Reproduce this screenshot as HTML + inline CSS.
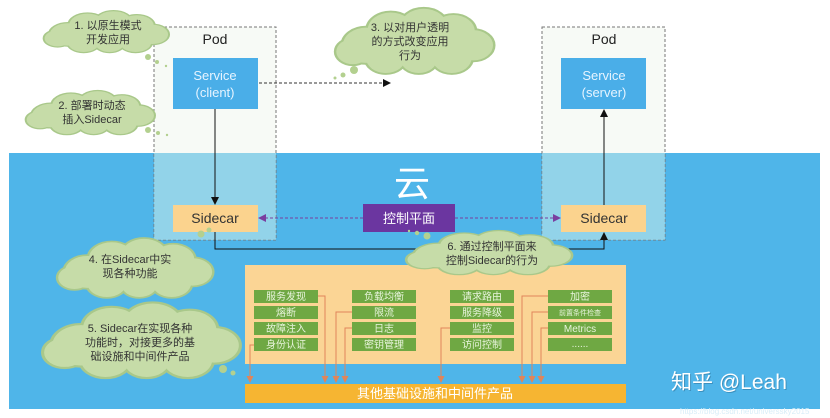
<!DOCTYPE html>
<html><head><meta charset="utf-8"><style>
html,body{margin:0;padding:0;background:#fff;}
svg{display:block;font-family:"Liberation Sans","Noto Sans CJK SC",sans-serif;}
</style></head><body>
<svg width="830" height="418" viewBox="0 0 830 418" xmlns="http://www.w3.org/2000/svg">
<defs>
<symbol id="cl" viewBox="0 0 100 50" preserveAspectRatio="none" overflow="visible">
 <g fill="#a9c88a" stroke="#a9c88a" stroke-width="3">
  <ellipse cx="50" cy="27" rx="38" ry="16"/>
  <circle cx="20" cy="28" r="14"/><circle cx="35" cy="16" r="14"/><circle cx="55" cy="13" r="14"/>
  <circle cx="73" cy="17" r="13"/><circle cx="85" cy="28" r="12"/><circle cx="72" cy="38" r="12"/>
  <circle cx="52" cy="39" r="11"/><circle cx="32" cy="38" r="12"/><circle cx="12" cy="33" r="10"/>
 </g>
 <g fill="#c6dca8">
  <ellipse cx="50" cy="27" rx="38" ry="16"/>
  <circle cx="20" cy="28" r="14"/><circle cx="35" cy="16" r="14"/><circle cx="55" cy="13" r="14"/>
  <circle cx="73" cy="17" r="13"/><circle cx="85" cy="28" r="12"/><circle cx="72" cy="38" r="12"/>
  <circle cx="52" cy="39" r="11"/><circle cx="32" cy="38" r="12"/><circle cx="12" cy="33" r="10"/>
 </g>
</symbol>
<marker id="ab" markerWidth="8" markerHeight="8" refX="7" refY="4" orient="auto" markerUnits="userSpaceOnUse"><path d="M0,0 L8,4 L0,8z" fill="#111"/></marker>
<marker id="ap" markerWidth="8" markerHeight="8" refX="7" refY="4" orient="auto" markerUnits="userSpaceOnUse"><path d="M0,0 L8,4 L0,8z" fill="#7a3fa0"/></marker>
<marker id="ao" markerWidth="7" markerHeight="7" refX="6" refY="3.5" orient="auto" markerUnits="userSpaceOnUse"><path d="M0,0 L7,3.5 L0,7z" fill="#e0855a"/></marker>
</defs>

<!-- blue cloud area -->
<rect x="9" y="153" width="811" height="256" fill="#4fb5e9"/>

<!-- pods -->
<rect x="154" y="27" width="122" height="213" fill="#eef3ec" fill-opacity="0.45" stroke="#777" stroke-dasharray="3,2"/>
<rect x="154" y="153" width="122" height="87" fill="#8fd3e8" fill-opacity="0.6"/>
<rect x="542" y="27" width="123" height="213" fill="#eef3ec" fill-opacity="0.45" stroke="#777" stroke-dasharray="3,2"/>
<rect x="542" y="153" width="123" height="87" fill="#8fd3e8" fill-opacity="0.6"/>
<text x="215" y="44" font-size="14" text-anchor="middle" fill="#222">Pod</text>
<text x="604" y="44" font-size="14" text-anchor="middle" fill="#222">Pod</text>

<rect x="173" y="58" width="85" height="51" fill="#4aaee8"/>
<text x="215" y="80" font-size="13" text-anchor="middle" fill="#e6f4ff">Service</text>
<text x="215" y="97" font-size="13" text-anchor="middle" fill="#e6f4ff">(client)</text>
<rect x="561" y="58" width="85" height="51" fill="#4aaee8"/>
<text x="604" y="80" font-size="13" text-anchor="middle" fill="#e6f4ff">Service</text>
<text x="604" y="97" font-size="13" text-anchor="middle" fill="#e6f4ff">(server)</text>

<rect x="173" y="205" width="85" height="27" fill="#fbd38e"/>
<text x="215" y="223" font-size="14" text-anchor="middle" fill="#333">Sidecar</text>
<rect x="561" y="205" width="85" height="27" fill="#fbd38e"/>
<text x="604" y="223" font-size="14" text-anchor="middle" fill="#333">Sidecar</text>

<text x="412" y="196" font-size="36" text-anchor="middle" fill="#fff">云</text>
<rect x="363" y="204" width="92" height="28" fill="#6b36a0"/>
<text x="409" y="223" font-size="13" text-anchor="middle" fill="#fff">控制平面</text>

<!-- connectors -->
<line x1="215" y1="109" x2="215" y2="204" stroke="#111" marker-end="url(#ab)"/>
<line x1="604" y1="205" x2="604" y2="110" stroke="#111" marker-end="url(#ab)"/>
<polyline points="215,232 215,249 604,249 604,233" fill="none" stroke="#111" marker-end="url(#ab)"/>
<line x1="259" y1="83" x2="390" y2="83" stroke="#333" stroke-dasharray="3,2" marker-end="url(#ab)"/>
<line x1="363" y1="218" x2="259" y2="218" stroke="#7a3fa0" stroke-dasharray="3,2" marker-end="url(#ap)"/>
<line x1="455" y1="218" x2="560" y2="218" stroke="#7a3fa0" stroke-dasharray="3,2" marker-end="url(#ap)"/>

<!-- orange panel -->
<rect x="245" y="265" width="381" height="99" fill="#fbd595"/>
<rect x="245" y="384" width="381" height="19" fill="#f6b532"/>
<text x="435" y="398" font-size="13" text-anchor="middle" fill="#fff">其他基础设施和中间件产品</text>

<g fill="#6fa843">
<rect x="254" y="290" width="64" height="13"/><rect x="254" y="306" width="64" height="13"/><rect x="254" y="322" width="64" height="13"/><rect x="254" y="338" width="64" height="13"/>
<rect x="352" y="290" width="64" height="13"/><rect x="352" y="306" width="64" height="13"/><rect x="352" y="322" width="64" height="13"/><rect x="352" y="338" width="64" height="13"/>
<rect x="450" y="290" width="64" height="13"/><rect x="450" y="306" width="64" height="13"/><rect x="450" y="322" width="64" height="13"/><rect x="450" y="338" width="64" height="13"/>
<rect x="548" y="290" width="64" height="13"/><rect x="548" y="306" width="64" height="13"/><rect x="548" y="322" width="64" height="13"/><rect x="548" y="338" width="64" height="13"/>
</g>
<g font-size="10" text-anchor="middle" fill="#e8f4dc">
<text x="286" y="300">服务发现</text><text x="286" y="316">熔断</text><text x="286" y="332">故障注入</text><text x="286" y="348">身份认证</text>
<text x="384" y="300">负载均衡</text><text x="384" y="316">限流</text><text x="384" y="332">日志</text><text x="384" y="348">密钥管理</text>
<text x="482" y="300">请求路由</text><text x="482" y="316">服务降级</text><text x="482" y="332">监控</text><text x="482" y="348">访问控制</text>
<text x="580" y="300">加密</text><text x="580" y="315" font-size="7">前置条件检查</text><text x="580" y="332">Metrics</text><text x="580" y="347">......</text>
</g>
<g stroke="#e0855a" fill="none" stroke-width="1">
<polyline points="254,345 250,345 250,382" marker-end="url(#ao)"/>
<polyline points="318,296 325,296 325,382" marker-end="url(#ao)"/>
<polyline points="352,312 336,312 336,382" marker-end="url(#ao)"/>
<polyline points="352,328 345,328 345,382" marker-end="url(#ao)"/>
<polyline points="450,328 441,328 441,382" marker-end="url(#ao)"/>
<polyline points="548,296 522,296 522,382" marker-end="url(#ao)"/>
<polyline points="548,312 532,312 532,382" marker-end="url(#ao)"/>
<polyline points="548,328 541,328 541,382" marker-end="url(#ao)"/>
</g>

<!-- clouds -->
<use href="#cl" x="42" y="12" width="130" height="40"/>
<circle cx="148" cy="57" r="3" fill="#b3d08f"/><circle cx="157" cy="62" r="2" fill="#b3d08f"/><circle cx="166" cy="66" r="1.2" fill="#b3d08f"/>
<text x="108" y="29" font-size="11" text-anchor="middle" fill="#333">1. 以原生模式</text>
<text x="108" y="43" font-size="11" text-anchor="middle" fill="#333">开发应用</text>

<use href="#cl" x="24" y="92" width="134" height="42"/>
<circle cx="148" cy="130" r="3" fill="#b3d08f"/><circle cx="158" cy="133" r="2" fill="#b3d08f"/><circle cx="167" cy="135" r="1.2" fill="#b3d08f"/>
<text x="92" y="109" font-size="11" text-anchor="middle" fill="#333">2. 部署时动态</text>
<text x="92" y="123" font-size="11" text-anchor="middle" fill="#333">插入Sidecar</text>

<use href="#cl" x="333" y="10" width="165" height="63"/>
<circle cx="354" cy="70" r="4" fill="#b3d08f"/><circle cx="343" cy="75" r="2.5" fill="#b3d08f"/><circle cx="335" cy="78" r="1.5" fill="#b3d08f"/>
<text x="410" y="31" font-size="11" text-anchor="middle" fill="#333">3. 以对用户透明</text>
<text x="410" y="45" font-size="11" text-anchor="middle" fill="#333">的方式改变应用</text>
<text x="410" y="59" font-size="11" text-anchor="middle" fill="#333">行为</text>

<use href="#cl" x="55" y="240" width="162" height="57"/>
<circle cx="201" cy="234" r="3.5" fill="#b3d08f"/><circle cx="209" cy="230" r="2.5" fill="#b3d08f"/>
<text x="130" y="263" font-size="11" text-anchor="middle" fill="#333">4. 在Sidecar中实</text>
<text x="130" y="277" font-size="11" text-anchor="middle" fill="#333">现各种功能</text>

<use href="#cl" x="40" y="305" width="205" height="72"/>
<circle cx="223" cy="369" r="4" fill="#b3d08f"/><circle cx="233" cy="373" r="2.5" fill="#b3d08f"/>
<text x="140" y="332" font-size="11" text-anchor="middle" fill="#333">5. Sidecar在实现各种</text>
<text x="140" y="346" font-size="11" text-anchor="middle" fill="#333">功能时，对接更多的基</text>
<text x="140" y="360" font-size="11" text-anchor="middle" fill="#333">础设施和中间件产品</text>

<use href="#cl" x="404" y="232" width="172" height="42"/>
<circle cx="427" cy="236" r="3.5" fill="#b3d08f"/><circle cx="417" cy="233" r="2.2" fill="#b3d08f"/><circle cx="409" cy="231" r="1.2" fill="#b3d08f"/>
<text x="492" y="250" font-size="11" text-anchor="middle" fill="#333">6. 通过控制平面来</text>
<text x="492" y="264" font-size="11" text-anchor="middle" fill="#333">控制Sidecar的行为</text>

<!-- watermark -->
<text x="672" y="390" font-size="21" fill="#2b6f97" opacity="0.5">知乎 @Leah</text>
<text x="671" y="389" font-size="21" fill="#fff">知乎 @Leah</text>
<text x="680" y="414" font-size="8" fill="#d8eef8">https://blog.csdn.net/universsky2015</text>
</svg>
</body></html>
